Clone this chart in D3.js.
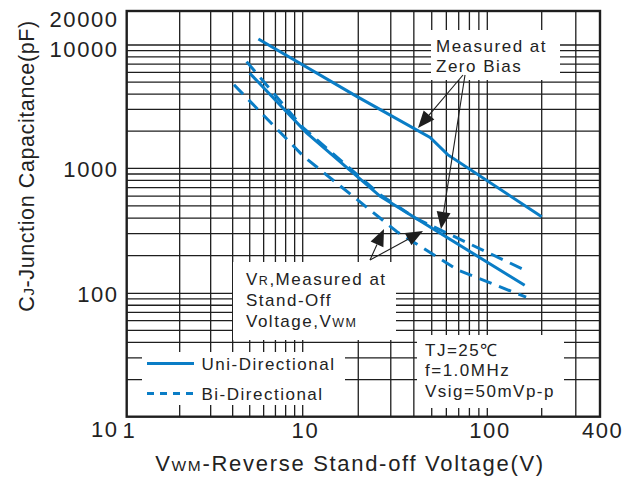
<!DOCTYPE html>
<html><head><meta charset="utf-8">
<script src="https://cdn.jsdelivr.net/npm/d3@7"></script>
<style>
body{margin:0;background:#fff}
svg text{font-family:"Liberation Sans",Arial,sans-serif;fill:#222}
</style>
</head><body>
<svg id="c" width="643" height="477"></svg>
<script>
// ---------- data ----------
const xStops = [1, 10, 100, 200, 400];
const yStops = [10, 100, 1000, 10000, 20000];
const xTickValues = [1, 10, 100, 400];
const yTickValues = [10, 100, 1000, 10000, 20000];
// Uni-directional, measured at zero bias (solid, upper)
const uniZeroBias = [[5.6, 11300], [19.6, 3830], [49, 1780], [61, 1290], [200, 410]];
// Bi-directional, measured at zero bias (dashed)
const biZeroBias = [[4.8, 7330], [10, 2150], [26.3, 615], [40.7, 400], [162, 153]];
// Uni-directional, measured at VR = VWM (solid, lower)
const uniVR = [[5.0, 5910], [10.5, 1937], [26.3, 597], [161, 116]];
// Bi-directional, measured at VR = VWM (dashed, lower)
const biVR = [[4.07, 4755], [10.08, 1254], [32.4, 311], [69.6, 153], [164, 93]];

// ---------- setup ----------
const svg = d3.select("#c");
const BLUE = "#0a7dc6", INK = "#1e1e1e";
const x = d3.scaleLog().domain(xStops).range([126.7, 302.7, 487.3, 541.7, 600]);
const y = d3.scaleLog().domain(yStops).range([416.7, 293.3, 168.3, 45, 11]);
const x0 = x(1), x1 = x(400), yB = y(10), yT = y(20000);

// grid values (decade subdivisions)
const xGrid = [], yGrid = [];
[1, 10, 100].forEach(d => { for (let k = 1; k <= 9; k++) { const v = d * k; if (v > 1 && v < 400) xGrid.push(v); } });
[10, 100, 1000, 10000].forEach(d => { for (let k = 1; k <= 9; k++) { const v = d * k; if (v > 10 && v < 20000) yGrid.push(v); } });

const g = svg.append("g");
g.selectAll("line.vx").data(xGrid).join("line")
  .attr("x1", d => x(d)).attr("x2", d => x(d)).attr("y1", yB).attr("y2", yT)
  .attr("stroke", INK).attr("stroke-width", 1.3);
g.selectAll("line.hy").data(yGrid).join("line")
  .attr("y1", d => y(d)).attr("y2", d => y(d)).attr("x1", x0).attr("x2", x1)
  .attr("stroke", INK).attr("stroke-width", 1.3);

// white annotation boxes covering grid
const boxes = [
  {x: 431, y: 30, w: 129, h: 50},
  {x: 233, y: 262, w: 163, h: 78},
  {x: 417, y: 335, w: 147, h: 73},
  {x: 142, y: 352, w: 203, h: 53}
];
g.selectAll("rect.box").data(boxes).join("rect")
  .attr("x", d => d.x).attr("y", d => d.y).attr("width", d => d.w).attr("height", d => d.h)
  .attr("fill", "#fff");

// ---------- curves ----------
const line = d3.line().x(d => x(d[0])).y(d => y(d[1]));
const series = [
  {data: uniZeroBias, dash: null},
  {data: biZeroBias, dash: "13,8"},
  {data: uniVR, dash: null},
  {data: biVR, dash: "13,8"}
];
g.selectAll("path.s").data(series).join("path")
  .attr("d", d => line(d.data))
  .attr("fill", "none").attr("stroke", BLUE).attr("stroke-width", 3)
  .attr("stroke-dasharray", d => d.dash);

// ---------- arrows ----------
const arrows = [
  {from: [463, 75], to: [418, 128]},
  {from: [465, 75], to: [441, 229]},
  {from: [370, 260], to: [384, 229]},
  {from: [370, 260], to: [423, 231]}
];
const HL = 17, HW = 7;
arrows.forEach(a => {
  const [fx, fy] = a.from, [tx, ty] = a.to;
  const dx = tx - fx, dy = ty - fy, L = Math.hypot(dx, dy), ux = dx / L, uy = dy / L;
  const bx = tx - ux * HL, by = ty - uy * HL;
  g.append("line").attr("x1", fx).attr("y1", fy).attr("x2", bx).attr("y2", by)
    .attr("stroke", INK).attr("stroke-width", 1.1);
  g.append("path")
    .attr("d", `M${tx},${ty}L${bx - uy * HW},${by + ux * HW}L${bx + uy * HW},${by - ux * HW}Z`)
    .attr("fill", INK);
});

// ---------- annotation texts ----------
function multi(lines, x0, y0, dy) {
  lines.forEach((parts, i) => {
    const t = svg.append("text").attr("x", x0).attr("y", y0 + i * dy)
      .attr("font-size", 17).style("letter-spacing", "1.5px");
    parts.forEach(p => t.append("tspan").attr("font-size", p.small ? 12.5 : 17).text(p.t));
  });
}
multi([[{t: "Measured at"}], [{t: "Zero Bias"}]], 436, 51.5, 20.5);
multi([[{t: "V"}, {t: "R", small: true}, {t: ",Measured at"}], [{t: "Stand-Off"}], [{t: "Voltage,V"}, {t: "WM", small: true}]], 246, 285, 21);
multi([[{t: "TJ=25℃"}], [{t: "f=1.0MHz"}], [{t: "Vsig=50mVp-p"}]], 425, 356, 20.3);

// legend
const legend = [
  {label: "Uni-Directional", dash: null},
  {label: "Bi-Directional", dash: "7,6"}
];
legend.forEach((d, i) => {
  const yy = 363.5 + i * 30;
  svg.append("line").attr("x1", 147).attr("x2", 194).attr("y1", yy).attr("y2", yy)
    .attr("stroke", BLUE).attr("stroke-width", 2.8).attr("stroke-dasharray", d.dash);
  svg.append("text").attr("x", 201.5).attr("y", yy + 6.5).attr("font-size", 17)
    .style("letter-spacing", "1.5px").text(d.label);
});

// ---------- frame ----------
svg.append("rect").attr("x", x0).attr("y", yT).attr("width", x1 - x0).attr("height", yB - yT)
  .attr("fill", "none").attr("stroke", INK).attr("stroke-width", 2.4);

// ---------- axes ----------
const xAxis = svg.append("g").attr("transform", `translate(0,${yB})`)
  .call(d3.axisBottom(x).tickValues(xTickValues).tickFormat(d3.format("d")).tickSize(0).tickPadding(6));
const yAxis = svg.append("g").attr("transform", `translate(${x0},0)`)
  .call(d3.axisLeft(y).tickValues(yTickValues).tickFormat(d3.format("d")).tickSize(0).tickPadding(8));
[xAxis, yAxis].forEach(a => {
  a.select(".domain").remove();
  a.attr("font-family", null).attr("font-size", null);
  a.selectAll("text").attr("fill", INK).attr("font-size", 22).style("letter-spacing", "1.6px");
});
xAxis.selectAll("text").attr("dy", "0.71em").attr("dx", "0.1em");
yAxis.selectAll("text").attr("dy", d => d === 20000 ? "0.72em" : d === 10 ? "0.92em" : d === 10000 ? "0.5em" : "0.36em");

// ---------- axis titles ----------
const xt = svg.append("text").attr("x", 350).attr("y", 471).attr("text-anchor", "middle")
  .attr("font-size", 22).style("letter-spacing", "1.7px");
xt.append("tspan").text("V");
xt.append("tspan").attr("font-size", 15.5).text("WM");
xt.append("tspan").text("-Reverse Stand-off Voltage(V)");

const yt = svg.append("text").attr("transform", "translate(34,166) rotate(-90)")
  .attr("text-anchor", "middle").attr("font-size", 21.5).style("letter-spacing", "0.6px");
yt.append("tspan").text("C");
yt.append("tspan").attr("font-size", 15).text("J");
yt.append("tspan").text("-Junction Capacitance(pF)");
</script>
</body></html>
